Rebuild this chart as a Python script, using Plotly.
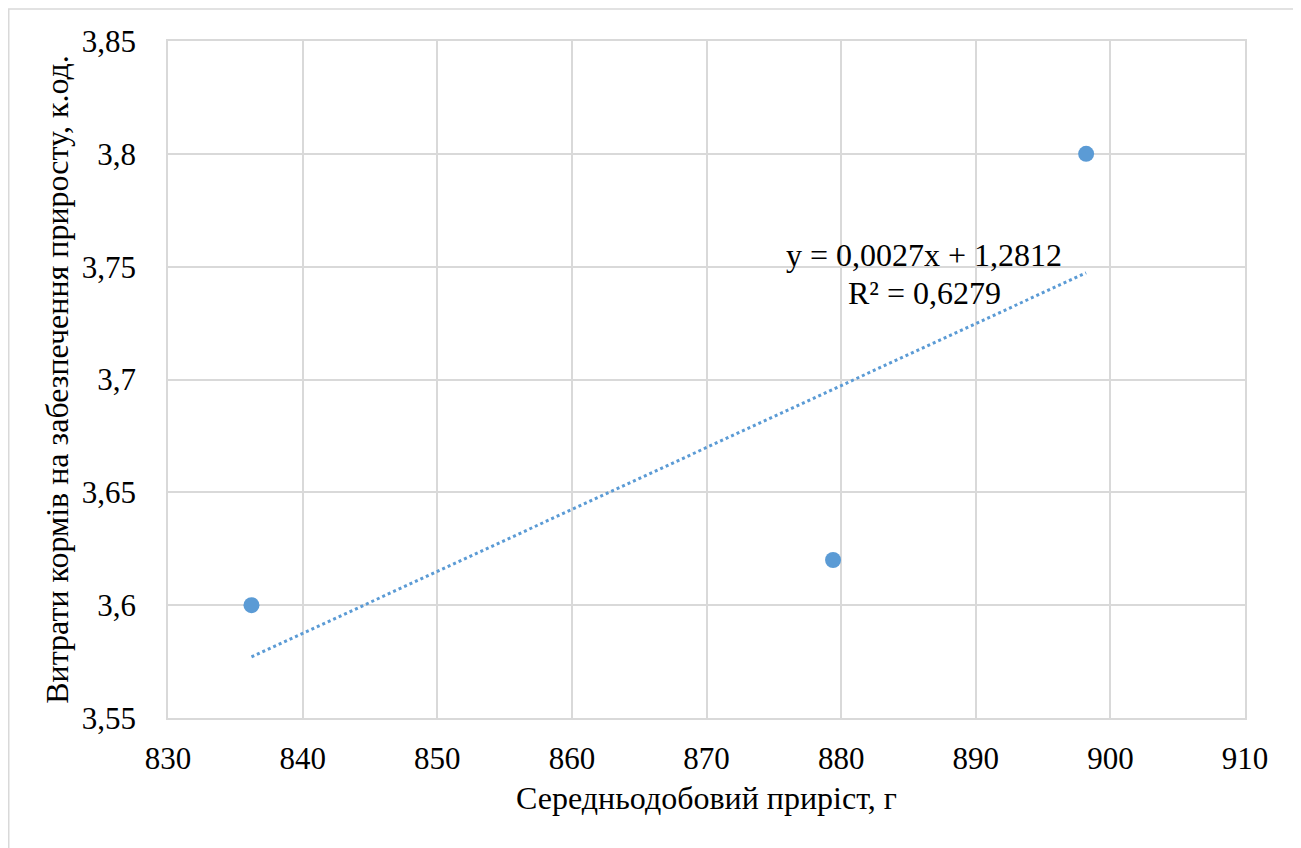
import numpy as np
import plotly.graph_objects as go

# Data
gain = [836.2, 879.4, 898.2]          # Середньодобовий приріст, г
feed = [3.60, 3.62, 3.80]             # Витрати кормів, к.од.

x_ticks = [830, 840, 850, 860, 870, 880, 890, 900, 910]
x_labels = ["830", "840", "850", "860", "870", "880", "890", "900", "910"]
y_ticks = [3.55, 3.60, 3.65, 3.70, 3.75, 3.80, 3.85]
y_labels = ["3,55", "3,6", "3,65", "3,7", "3,75", "3,8", "3,85"]

eq_line1 = "y = 0,0027x + 1,2812"
eq_line2 = "R² = 0,6279"

# Linear trendline fitted to the data
k, b = np.polyfit(gain, feed, 1)
tx = [min(gain), max(gain)]
ty = [k * v + b for v in tx]

color = "#5B9BD5"
grid = "#D9D9D9"
font = "Liberation Serif"

fig = go.Figure()
fig.add_trace(go.Scatter(x=tx, y=ty, mode="lines",
                         line=dict(color=color, width=3, dash="dot"),
                         hoverinfo="skip", showlegend=False))
fig.add_trace(go.Scatter(x=gain, y=feed, mode="markers",
                         marker=dict(color=color, size=16),
                         showlegend=False))

for txt, ys in [(eq_line1, 18), (eq_line2, -20)]:
    fig.add_annotation(x=tx[1], y=ty[1], xref="x", yref="y",
                       text=txt, showarrow=False, align="center",
                       xanchor="center", yanchor="middle",
                       xshift=-162, yshift=ys,
                       font=dict(family=font, size=32, color="#000000"))

L, R, T, B = 160, 56, 33, 130
W, H = 1293, 840
pw, ph = W - L - R, H - T - B
fig.add_shape(type="rect", xref="paper", yref="paper",
              x0=(0.75 - L) / pw, x1=(1289 - L) / pw,
              y0=(H - B - 846) / ph, y1=(H - B - 1) / ph,
              line=dict(color=grid, width=1.5), fillcolor="rgba(0,0,0,0)",
              layer="below")

fig.update_layout(
    width=W, height=H,
    margin=dict(l=L, r=R, t=T, b=B),
    paper_bgcolor="white", plot_bgcolor="white",
    separators=", ",
    font=dict(family=font, size=32, color="#000000"),
    xaxis=dict(range=[830, 910], tickvals=x_ticks, ticktext=x_labels,
               showgrid=True, gridcolor=grid, gridwidth=1.5,
               showline=True, linecolor=grid, linewidth=1.5, mirror=True,
               zeroline=False, ticks="outside", ticklen=12,
               tickcolor="rgba(0,0,0,0)",
               tickfont=dict(family=font, size=31, color="#000000"),
               title=dict(text="Середньодобовий приріст, г",
                          font=dict(family=font, size=32, color="#000000"),
                          standoff=12)),
    yaxis=dict(range=[3.55, 3.85], tickvals=y_ticks, ticktext=y_labels,
               showgrid=True, gridcolor=grid, gridwidth=1.5,
               showline=True, linecolor=grid, linewidth=1.5, mirror=True,
               zeroline=False, ticks="outside", ticklen=24,
               tickcolor="rgba(0,0,0,0)",
               tickfont=dict(family=font, size=31, color="#000000"),
               title=dict(text="Витрати кормів на забезпечення приросту, к.од.",
                          font=dict(family=font, size=32, color="#000000"),
                          standoff=4)),
)

fig.write_html("out.html")
